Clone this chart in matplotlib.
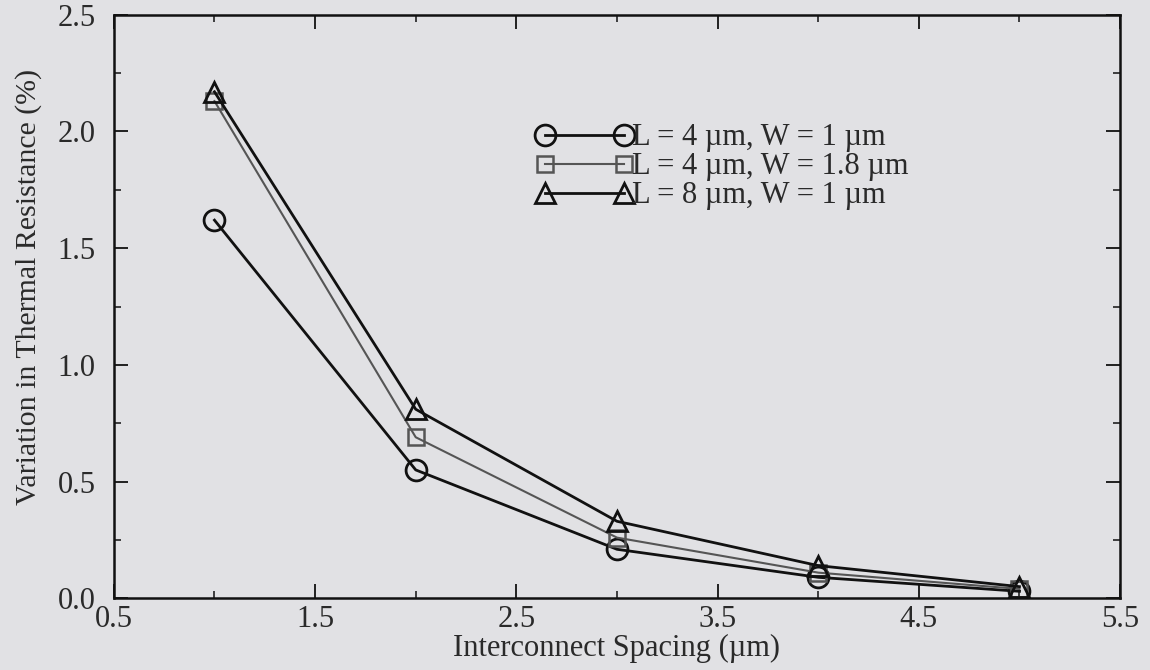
import numpy as np
import matplotlib
matplotlib.use('Agg')
import matplotlib.pyplot as plt
from matplotlib.ticker import MultipleLocator

plt.rcParams['font.family'] = ['Liberation Serif', 'DejaVu Serif']

# interconnect spacing (um)
spacing = [1, 2, 3, 4, 5]

# variation in thermal resistance (%) for each geometry
l4_w1 = [1.62, 0.55, 0.21, 0.09, 0.03]
l4_w18 = [2.13, 0.69, 0.26, 0.11, 0.04]
l8_w1 = [2.17, 0.81, 0.33, 0.14, 0.05]

labels = ['L = 4 \u00b5m, W = 1 \u00b5m',
          'L = 4 \u00b5m, W = 1.8 \u00b5m',
          'L = 8 \u00b5m, W = 1 \u00b5m']

x_ticks = [0.5, 1.5, 2.5, 3.5, 4.5, 5.5]

bg = '#e1e1e4'
txt = '#2a2a2a'
fig, ax = plt.subplots(figsize=(11.5, 6.7), dpi=100)
fig.patch.set_facecolor(bg)
ax.set_facecolor(bg)
fig.subplots_adjust(left=0.099, right=0.974, top=0.978, bottom=0.107)

ax.plot(spacing, l4_w1, '-o', color='#111111', lw=2.0, ms=15,
        mfc='none', mec='#111111', mew=2.0, label=labels[0])
ax.plot(spacing, l4_w18, '-s', color='#555555', lw=1.5, ms=12,
        mfc='none', mec='#555555', mew=1.8, label=labels[1])
ax.plot(spacing, l8_w1, '-^', color='#111111', lw=2.0, ms=15,
        mfc='none', mec='#111111', mew=2.0, label=labels[2])

ax.set_xlim(0.5, 5.5)
ax.set_ylim(0, 2.5)
ax.set_xticks(x_ticks)
ax.xaxis.set_minor_locator(MultipleLocator(0.5))
ax.yaxis.set_major_locator(MultipleLocator(0.5))
ax.yaxis.set_minor_locator(MultipleLocator(0.25))
ax.xaxis.set_major_formatter(plt.FormatStrFormatter('%.1f'))
ax.yaxis.set_major_formatter(plt.FormatStrFormatter('%.1f'))

ax.tick_params(which='both', direction='in', top=True, right=True,
               color='#111111', labelsize=22, labelcolor=txt)
ax.tick_params(which='major', length=10, width=1.3)
ax.tick_params(which='minor', length=5, width=1.1)
ax.tick_params(axis='y', pad=13)
ax.tick_params(axis='x', pad=5)
for s in ax.spines.values():
    s.set_linewidth(1.8)
    s.set_color('#111111')

ax.set_xlabel('Interconnect Spacing (\u00b5m)', fontsize=22, color=txt, labelpad=0)
ax.set_ylabel('Variation in Thermal Resistance (%)', fontsize=21.5, color=txt)
ax.yaxis.set_label_coords(-0.071, 0.533)

leg = ax.legend(loc='upper left', bbox_to_anchor=(0.407, 0.835), frameon=False,
                numpoints=2, handlelength=3.2, handletextpad=-0.05,
                labelspacing=0.0, fontsize=22, borderaxespad=0)
for t in leg.get_texts():
    t.set_color(txt)

fig.savefig('out.png', dpi=100, facecolor=bg)
